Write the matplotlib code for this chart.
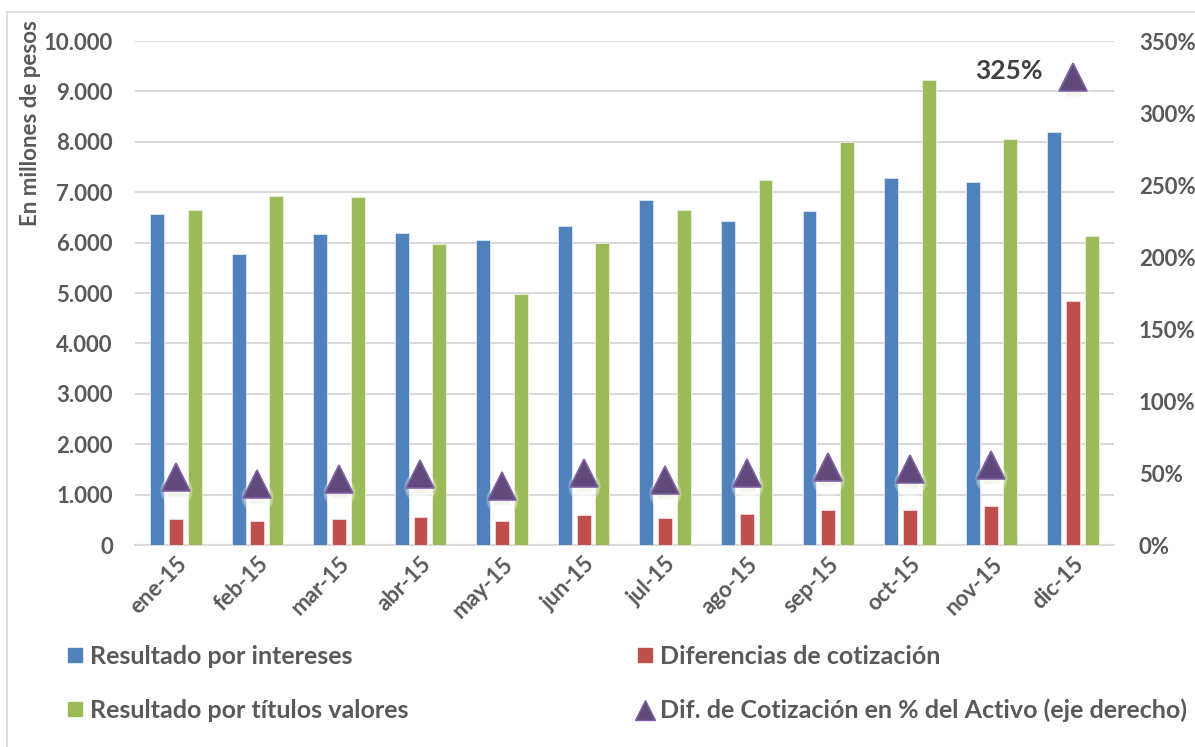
import numpy as np
import matplotlib
matplotlib.use("Agg")
from matplotlib import pyplot as plt
from matplotlib import transforms
from matplotlib.lines import Line2D
from matplotlib.patches import Rectangle
from matplotlib.ticker import FuncFormatter, MultipleLocator

months = ["ene-15", "feb-15", "mar-15", "abr-15", "may-15", "jun-15",
          "jul-15", "ago-15", "sep-15", "oct-15", "nov-15", "dic-15"]
intereses = [6570, 5770, 6170, 6200, 6050, 6320, 6840, 6430, 6620, 7290, 7200, 8190]
cotizacion = [510, 470, 510, 555, 470, 595, 542, 615, 688, 690, 767, 4840]
titulos = [6640, 6920, 6910, 5980, 4990, 6000, 6640, 7250, 7990, 9220, 8050, 6130]
pct_activo = [47.4, 42.2, 46.1, 49.2, 41.1, 50.1, 45.4, 49.8, 54.1, 52.8, 55.6, 325]

BLUE = "#4F81BD"
RED = "#C0504D"
GREEN = "#9BBB59"
PURPLE = "#604A7B"
GREY = "#595959"

plt.rcParams["font.family"] = ["Lato", "DejaVu Sans"]
plt.rcParams["font.weight"] = "bold"

fig = plt.figure(figsize=(11.95, 7.47), dpi=100)
fig.patches.append(Rectangle((7 / 1195, -0.05), 1.0, 1 - 12 / 747 + 0.05,
                             transform=fig.transFigure, fill=False,
                             edgecolor="#D9D9D9", linewidth=1.2))

ax = fig.add_axes([0.113, 0.2704, 0.819, 0.6747])
x = np.arange(len(months))
w = 0.17
ax.bar(x - 0.23, intereses, w, color=BLUE, edgecolor="#DCE6F2", linewidth=0.6, zorder=3)
ax.bar(x, cotizacion, w, color=RED, edgecolor="#F2DCDB", linewidth=0.6, zorder=3)
ax.bar(x + 0.23, titulos, w, color=GREEN, edgecolor="#EBF1DE", linewidth=0.6, zorder=3)

ax.set_xlim(-0.5, len(months) - 0.5)
ax.set_ylim(0, 10000)
ax.yaxis.set_major_locator(MultipleLocator(1000))
ax.yaxis.set_major_formatter(FuncFormatter(lambda v, p: f"{int(v):,}".replace(",", ".")))
ax.grid(axis="y", color="#D9D9D9", linewidth=1.5, zorder=0)
for s in ["top", "left", "right"]:
    ax.spines[s].set_visible(False)
ax.spines["bottom"].set_color("#D9D9D9")
ax.spines["bottom"].set_linewidth(1.5)
ax.tick_params(axis="both", length=0, colors=GREY, labelsize=16)
ax.tick_params(axis="y", pad=16)
ax.tick_params(axis="x", pad=6)
ax.set_xticks(x)
ax.set_xticklabels(months, rotation=45, ha="right", rotation_mode="anchor")
fig.text(31 / 1195, 1 - 20 / 747, "En millones de pesos", rotation=90,
         ha="center", va="top", fontsize=16, color=GREY, fontweight="bold")

ax2 = ax.twinx()
ax2.set_ylim(0, 350)
ax2.yaxis.set_major_locator(MultipleLocator(50))
ax2.yaxis.set_major_formatter(FuncFormatter(lambda v, p: f"{v:.0f}%"))
ax2.tick_params(axis="y", length=0, colors=GREY, labelsize=16, pad=18)
for s in ax2.spines.values():
    s.set_visible(False)

# soft whitish shadow under the triangles (stacked translucent blobs)
off = transforms.offset_copy(ax2.transData, fig=fig, x=0, y=-13, units="dots")
for ms in [23, 20, 17, 14]:
    ax2.plot(x, pct_activo, linestyle="none", marker="o", markersize=ms,
             markerfacecolor="white", markeredgecolor="none", alpha=0.3,
             transform=off, zorder=4)
off2 = transforms.offset_copy(ax2.transData, fig=fig, x=0, y=-11, units="dots")
ax2.plot(x, pct_activo, linestyle="none", marker="s", markersize=11,
         markerfacecolor="#E4E2D0", markeredgecolor="none", alpha=0.3,
         transform=off2, zorder=4)
ax2.plot(x, pct_activo, linestyle="none", marker="^", markersize=20,
         color=PURPLE, markeredgecolor="#8064A2", markeredgewidth=1.2, zorder=5)
ax2.annotate(f"{pct_activo[-1]:.0f}%", xy=(x[-1], pct_activo[-1]),
             xytext=(-46, 4), textcoords="offset points", ha="center", va="center",
             fontsize=19, color="#404040", fontweight="bold")

handles = [
    Line2D([], [], linestyle="none", marker="s", markersize=10, color=BLUE),
    Line2D([], [], linestyle="none", marker="s", markersize=10, color=GREEN),
    Line2D([], [], linestyle="none", marker="s", markersize=10, color=RED),
    Line2D([], [], linestyle="none", marker="^", markersize=14, color=PURPLE,
           markeredgecolor="#8064A2"),
]
labels = ["Resultado por intereses", "Resultado por títulos valores",
          "Diferencias de cotización", "Dif. de Cotización en % del Activo (eje derecho)"]
leg = fig.legend(handles, labels, ncol=2, loc="upper left",
                 bbox_to_anchor=(44 / 1195, 1 - 622 / 747), frameon=False,
                 fontsize=18, labelspacing=1.25, columnspacing=9.1,
                 handlelength=0.7, handletextpad=0.25)
for t in leg.get_texts():
    t.set_color(GREY)

fig.savefig("out.png", dpi=100, facecolor="white")
